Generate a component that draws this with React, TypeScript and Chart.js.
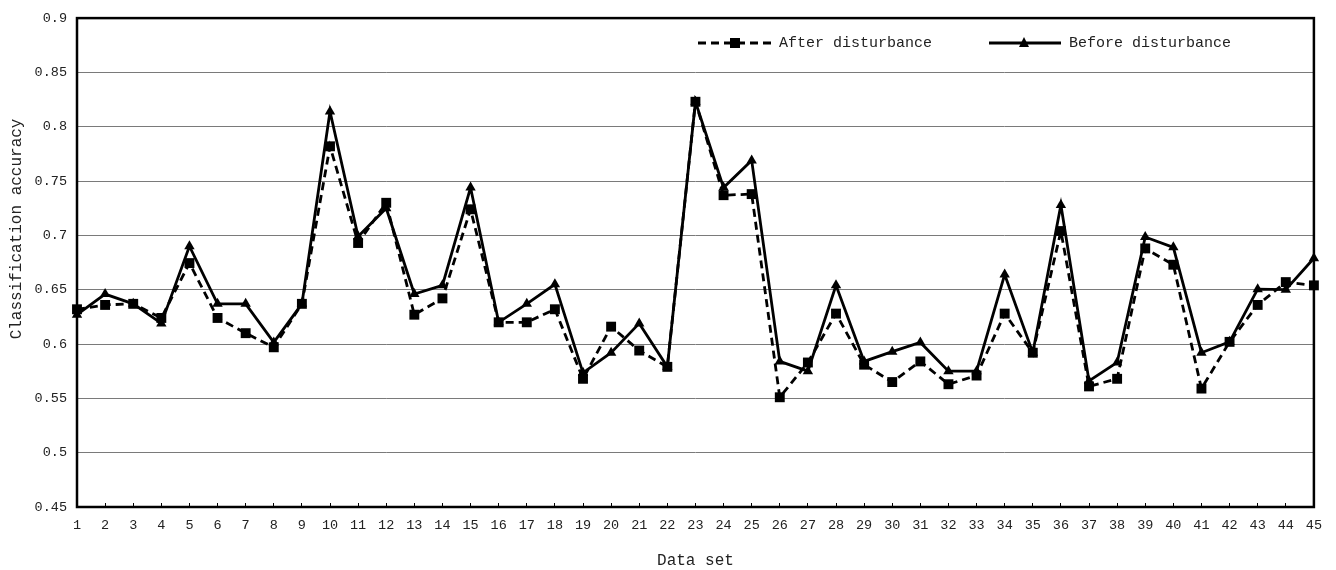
import React, { useEffect, useRef } from "react";
import { Chart, registerables } from "chart.js";

Chart.register(...registerables);

const categories = Array.from({ length: 45 }, (_, i) => String(i + 1));

const afterDisturbance = [
  0.632, 0.636, 0.637, 0.624, 0.6745, 0.624, 0.61, 0.597, 0.637, 0.782,
  0.693, 0.73, 0.627, 0.642, 0.724, 0.62, 0.62, 0.632, 0.568, 0.616,
  0.594, 0.579, 0.823, 0.737, 0.738, 0.551, 0.583, 0.628, 0.581, 0.565,
  0.584, 0.563, 0.571, 0.628, 0.592, 0.704, 0.561, 0.568, 0.688, 0.673,
  0.559, 0.602, 0.636, 0.657, 0.654,
];

const beforeDisturbance = [
  0.627, 0.646, 0.637, 0.619, 0.69, 0.637, 0.637, 0.6015, 0.637, 0.814,
  0.699, 0.725, 0.646, 0.654, 0.744, 0.62, 0.637, 0.655, 0.5735, 0.592,
  0.619, 0.579, 0.823, 0.744, 0.769, 0.584, 0.575, 0.654, 0.584, 0.593,
  0.6015, 0.575, 0.575, 0.664, 0.592, 0.728, 0.566, 0.583, 0.6985, 0.689,
  0.592, 0.602, 0.6505, 0.65, 0.679,
];

const yTicks = [0.45, 0.5, 0.55, 0.6, 0.65, 0.7, 0.75, 0.8, 0.85, 0.9];

const seriesNames = ["After disturbance", "Before disturbance"];

const FONT = "'Liberation Mono', 'DejaVu Sans Mono', monospace";
const DASH = [8, 5];

const framePlugin = {
  id: "frame",
  afterDatasetsDraw(chart: any) {
    const { ctx, chartArea } = chart;
    ctx.save();
    ctx.strokeStyle = "#000";
    ctx.lineWidth = 2.5;
    ctx.strokeRect(
      chartArea.left,
      chartArea.top,
      chartArea.right - chartArea.left,
      chartArea.bottom - chartArea.top
    );
    ctx.restore();
  },
};

const legendPlugin = {
  id: "customLegend",
  afterDraw(chart: any) {
    const { ctx } = chart;
    const y = 43;
    ctx.save();
    ctx.strokeStyle = "#000";
    ctx.fillStyle = "#000";
    ctx.lineWidth = 2.8;
    // After disturbance: dashed + square
    ctx.setLineDash(DASH);
    ctx.beginPath();
    ctx.moveTo(698, y);
    ctx.lineTo(772, y);
    ctx.stroke();
    ctx.setLineDash([]);
    ctx.fillRect(735 - 5, y - 5, 10, 10);
    // Before disturbance: solid + triangle
    ctx.beginPath();
    ctx.moveTo(989, y);
    ctx.lineTo(1061, y);
    ctx.stroke();
    ctx.beginPath();
    ctx.moveTo(1024, y - 6);
    ctx.lineTo(1029, y + 4);
    ctx.lineTo(1019, y + 4);
    ctx.closePath();
    ctx.fill();
    ctx.font = `15px ${FONT}`;
    ctx.fillStyle = "#222";
    ctx.textBaseline = "middle";
    ctx.textAlign = "left";
    ctx.fillText(seriesNames[0], 779, y);
    ctx.fillText(seriesNames[1], 1069, y);
    ctx.restore();
  },
};

export default function App() {
  const canvasRef = useRef<HTMLCanvasElement | null>(null);

  useEffect(() => {
    if (!canvasRef.current) return;
    const chart = new Chart(canvasRef.current, {
      type: "line",
      data: {
        labels: categories,
        datasets: [
          {
            label: seriesNames[0],
            data: afterDisturbance,
            borderColor: "#000",
            backgroundColor: "#000",
            borderWidth: 2.8,
            borderDash: DASH,
            pointStyle: "rect",
            pointRadius: 7,
            pointBorderWidth: 0,
            pointBackgroundColor: "#000",
            tension: 0,
            order: 2,
          },
          {
            label: seriesNames[1],
            data: beforeDisturbance,
            borderColor: "#000",
            backgroundColor: "#000",
            borderWidth: 2.8,
            pointStyle: "triangle",
            pointRadius: 6,
            pointBorderWidth: 0,
            pointBackgroundColor: "#000",
            tension: 0,
            order: 1,
          },
        ],
      },
      options: {
        animation: false,
        responsive: true,
        maintainAspectRatio: false,
        layout: { padding: { top: 17, right: 18, left: 0, bottom: 0 } },
        plugins: {
          legend: { display: false },
          tooltip: { enabled: false },
        },
        scales: {
          x: {
            type: "category",
            offset: false,
            grid: {
              drawOnChartArea: false,
              drawTicks: true,
              tickLength: -4,
              color: "#000",
              lineWidth: 1,
            },
            border: { display: false },
            ticks: {
              autoSkip: false,
              maxRotation: 0,
              padding: 14,
              color: "#222",
              font: { family: FONT, size: 13.5 },
            },
            title: {
              display: true,
              text: "Data set",
              color: "#222",
              font: { family: FONT, size: 16 },
              padding: { top: 0, bottom: 0 },
            },
            afterFit(scale: any) {
              scale.height = 63;
            },
          },
          y: {
            min: 0.45,
            max: 0.9,
            grid: {
              drawTicks: false,
              color: "#7a7a7a",
              lineWidth: 1,
            },
            border: { display: false },
            afterBuildTicks(scale: any) {
              scale.ticks = yTicks.map((v) => ({ value: v }));
            },
            ticks: {
              padding: 10,
              color: "#222",
              font: { family: FONT, size: 13.5 },
              callback: (v: any) => String(Number(Number(v).toFixed(2))),
            },
            title: {
              display: true,
              text: "       Classification accuracy",
              color: "#222",
              font: { family: FONT, size: 16 },
              padding: { top: 7, bottom: 0 },
            },
            afterFit(scale: any) {
              scale.width = 77;
            },
          },
        },
      },
      plugins: [framePlugin, legendPlugin],
    });
    return () => chart.destroy();
  }, []);

  return (
    <div
      style={{
        position: "fixed",
        left: 0,
        top: 0,
        width: 1336,
        height: 570,
        background: "#fff",
      }}
    >
      <canvas ref={canvasRef} />
    </div>
  );
}
